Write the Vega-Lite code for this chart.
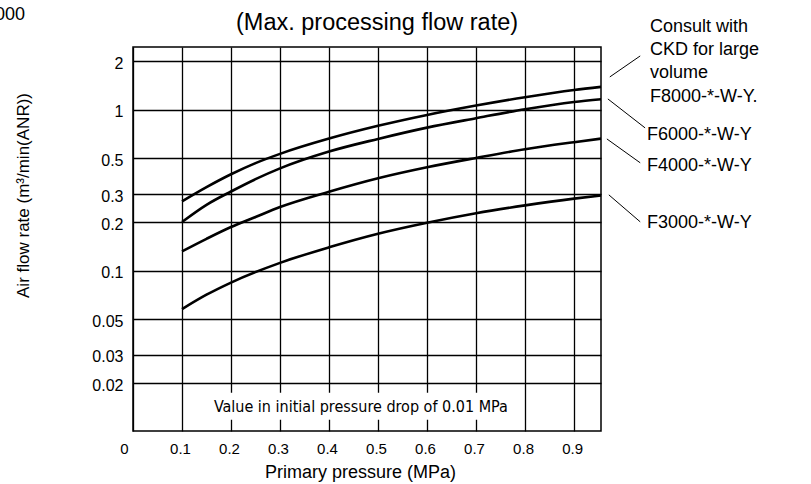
{
  "$schema": "https://vega.github.io/schema/vega-lite/v6.json",
  "width": 468,
  "height": 384,
  "autosize": {"type": "none"},
  "padding": {"left": 133, "top": 47, "right": 210, "bottom": 53},
  "background": "white",
  "config": {
    "font": "Liberation Sans",
    "view": {"stroke": "#000", "strokeWidth": 1.5}
  },
  "datasets": {
    "curves": [
      {"series": "F8000", "x": 0.1, "y": 0.27},
      {"series": "F8000", "x": 0.15, "y": 0.331},
      {"series": "F8000", "x": 0.2, "y": 0.398},
      {"series": "F8000", "x": 0.25, "y": 0.467},
      {"series": "F8000", "x": 0.3, "y": 0.533},
      {"series": "F8000", "x": 0.4, "y": 0.663},
      {"series": "F8000", "x": 0.5, "y": 0.796},
      {"series": "F8000", "x": 0.6, "y": 0.93},
      {"series": "F8000", "x": 0.7, "y": 1.064},
      {"series": "F8000", "x": 0.8, "y": 1.2},
      {"series": "F8000", "x": 0.9, "y": 1.33},
      {"series": "F8000", "x": 0.955, "y": 1.39},
      {"series": "F6000", "x": 0.1, "y": 0.201},
      {"series": "F6000", "x": 0.15, "y": 0.257},
      {"series": "F6000", "x": 0.2, "y": 0.311},
      {"series": "F6000", "x": 0.25, "y": 0.371},
      {"series": "F6000", "x": 0.3, "y": 0.433},
      {"series": "F6000", "x": 0.4, "y": 0.551},
      {"series": "F6000", "x": 0.5, "y": 0.66},
      {"series": "F6000", "x": 0.6, "y": 0.776},
      {"series": "F6000", "x": 0.7, "y": 0.888},
      {"series": "F6000", "x": 0.8, "y": 1.01},
      {"series": "F6000", "x": 0.9, "y": 1.12},
      {"series": "F6000", "x": 0.955, "y": 1.165},
      {"series": "F4000", "x": 0.1, "y": 0.132},
      {"series": "F4000", "x": 0.15, "y": 0.158},
      {"series": "F4000", "x": 0.2, "y": 0.187},
      {"series": "F4000", "x": 0.25, "y": 0.216},
      {"series": "F4000", "x": 0.3, "y": 0.249},
      {"series": "F4000", "x": 0.4, "y": 0.31},
      {"series": "F4000", "x": 0.5, "y": 0.376},
      {"series": "F4000", "x": 0.6, "y": 0.44},
      {"series": "F4000", "x": 0.7, "y": 0.503},
      {"series": "F4000", "x": 0.8, "y": 0.57},
      {"series": "F4000", "x": 0.9, "y": 0.63},
      {"series": "F4000", "x": 0.955, "y": 0.663},
      {"series": "F3000", "x": 0.1, "y": 0.0578},
      {"series": "F3000", "x": 0.15, "y": 0.071},
      {"series": "F3000", "x": 0.2, "y": 0.0845},
      {"series": "F3000", "x": 0.3, "y": 0.112},
      {"series": "F3000", "x": 0.4, "y": 0.14},
      {"series": "F3000", "x": 0.5, "y": 0.17},
      {"series": "F3000", "x": 0.6, "y": 0.199},
      {"series": "F3000", "x": 0.7, "y": 0.228},
      {"series": "F3000", "x": 0.8, "y": 0.255},
      {"series": "F3000", "x": 0.9, "y": 0.281},
      {"series": "F3000", "x": 0.955, "y": 0.294}
    ],
    "labels": [
      {"label": "Consult with", "x": 1.055, "y": 3.28},
      {"label": "CKD for large", "x": 1.055, "y": 2.36},
      {"label": "volume", "x": 1.055, "y": 1.697},
      {"label": "F8000-*-W-Y.", "x": 1.055, "y": 1.204},
      {"label": "F6000-*-W-Y", "x": 1.049, "y": 0.70},
      {"label": "F4000-*-W-Y", "x": 1.049, "y": 0.449},
      {"label": "F3000-*-W-Y", "x": 1.049, "y": 0.1987}
    ],
    "leaders": [
      {"x": 0.973, "y": 1.603, "x2": 1.035, "y2": 2.165},
      {"x": 0.969, "y": 1.17, "x2": 1.045, "y2": 0.773},
      {"x": 0.967, "y": 0.66, "x2": 1.035, "y2": 0.469},
      {"x": 0.971, "y": 0.2965, "x2": 1.035, "y2": 0.2015}
    ],
    "box": [
      {"x": 0.16, "x2": 0.77, "y": 0.01746, "y2": 0.01187}
    ],
    "note": [
      {"label": "Value in initial pressure drop of 0.01 MPa", "x": 0.465, "y": 0.0143}
    ],
    "heading": [
      {"label": "(Max. processing flow rate)", "x": 0.498, "y": 3.16}
    ],
    "corner": [
      {"label": "000", "x": -0.2204, "y": 3.89}
    ]
  },
  "encoding": {
    "x": {
      "field": "x",
      "type": "quantitative",
      "scale": {"domain": [0, 0.955], "nice": false, "zero": false},
      "axis": {
        "values": [0, 0.1, 0.2, 0.3, 0.4, 0.5, 0.6, 0.7, 0.8, 0.9],
        "format": "~g",
        "title": "Primary pressure (MPa)",
        "grid": true,
        "gridColor": "#000",
        "gridWidth": 1.3,
        "gridOpacity": 1,
        "domain": false,
        "ticks": false,
        "tickSize": 0,
        "labelPadding": 10,
        "labelFontSize": 15,
        "labelColor": "#000",
        "labelFlush": false,
        "labelOffset": {"condition": {"test": "datum.value === 0", "value": -9}, "value": -2},
        "titleFontSize": 18,
        "titleFontWeight": "normal",
        "titleColor": "#000",
        "titleX": 227,
        "titleY": 46,
        "titleBaseline": "alphabetic",
        "titleAlign": "center"
      }
    },
    "y": {
      "field": "y",
      "type": "quantitative",
      "scale": {"type": "log", "domain": [0.0101, 2.46], "nice": false},
      "axis": {
        "values": [0.02, 0.03, 0.05, 0.1, 0.2, 0.3, 0.5, 1, 2],
        "format": "~g",
        "title": "Air flow rate (m³/min(ANR))",
        "grid": true,
        "gridColor": "#000",
        "gridWidth": 1.3,
        "gridOpacity": 1,
        "domain": false,
        "ticks": false,
        "tickSize": 0,
        "labelPadding": 10,
        "labelOffset": 2,
        "labelFontSize": 16,
        "labelColor": "#000",
        "labelFlush": false,
        "titleFontSize": 17,
        "titleFontWeight": "normal",
        "titleColor": "#000",
        "titleAngle": -90,
        "titleX": -105,
        "titleY": 148,
        "titleBaseline": "alphabetic",
        "titleAlign": "center"
      }
    }
  },
  "layer": [
    {
      "data": {"name": "box"},
      "mark": {"type": "rect", "fill": "white", "stroke": null},
      "encoding": {
        "x2": {"field": "x2"},
        "y2": {"field": "y2"}
      }
    },
    {
      "data": {"name": "curves"},
      "mark": {"type": "line", "color": "#000", "strokeWidth": 2.6, "interpolate": "monotone"},
      "encoding": {
        "detail": {"field": "series", "type": "nominal"}
      }
    },
    {
      "data": {"name": "leaders"},
      "mark": {"type": "rule", "color": "#000", "strokeWidth": 1},
      "encoding": {
        "x2": {"field": "x2"},
        "y2": {"field": "y2"}
      }
    },
    {
      "data": {"name": "labels"},
      "mark": {"type": "text", "align": "left", "baseline": "middle", "fontSize": 18, "color": "#000"},
      "encoding": {
        "text": {"field": "label"}
      }
    },
    {
      "data": {"name": "note"},
      "mark": {"type": "text", "align": "center", "baseline": "middle", "fontSize": 16, "font": "DejaVu Sans Condensed, Liberation Sans", "color": "#000"},
      "encoding": {
        "text": {"field": "label"}
      }
    },
    {
      "data": {"name": "heading"},
      "mark": {"type": "text", "align": "center", "baseline": "alphabetic", "fontSize": 23.5, "color": "#000"},
      "encoding": {
        "text": {"field": "label"}
      }
    },
    {
      "data": {"name": "corner"},
      "mark": {"type": "text", "align": "right", "baseline": "middle", "fontSize": 18, "color": "#000"},
      "encoding": {
        "text": {"field": "label"}
      }
    }
  ]
}
